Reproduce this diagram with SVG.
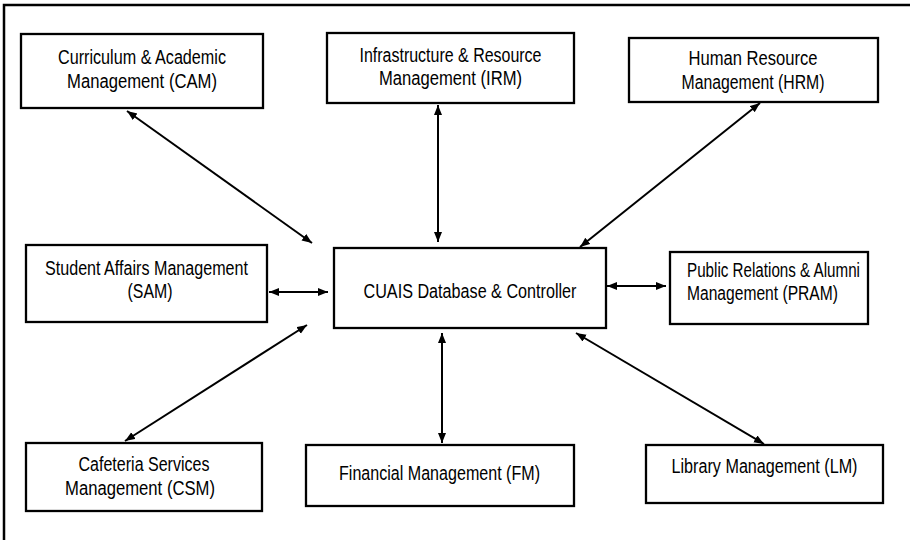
<svg xmlns="http://www.w3.org/2000/svg" width="910" height="540" viewBox="0 0 910 540">
<style>
.box{fill:#fff;stroke:#000;stroke-width:2.3}
.t{font-family:"Liberation Sans",Arial,sans-serif;font-size:19.5px;fill:#000}
.c{text-anchor:middle}
.link{stroke:#000;stroke-width:2;fill:none;marker-start:url(#ah);marker-end:url(#ah)}
</style>
<defs>
<marker id="ah" markerUnits="userSpaceOnUse" markerWidth="11" markerHeight="9" refX="10" refY="4" orient="auto-start-reverse" viewBox="0 0 11 9">
<path d="M0,0 L10,4 L0,8 z" fill="#000"/>
</marker>
</defs>
<rect width="910" height="540" fill="#fff"/>
<path d="M4,545 V5 H915" fill="none" stroke="#000" stroke-width="2.5"/>
<g id="connectors">
<line class="link" x1="127" y1="111" x2="312" y2="243"/>
<line class="link" x1="438" y1="105" x2="438" y2="242"/>
<line class="link" x1="760" y1="103" x2="580" y2="247"/>
<line class="link" x1="269" y1="292" x2="328" y2="292"/>
<line class="link" x1="607" y1="286" x2="666" y2="286"/>
<line class="link" x1="125" y1="441" x2="307" y2="325"/>
<line class="link" x1="442" y1="333" x2="442" y2="443"/>
<line class="link" x1="576" y1="333" x2="764" y2="444"/>
</g>
<g id="cam">
<rect class="box" x="21" y="34" width="242" height="74"/>
<text class="t c" x="142" y="64" textLength="168" lengthAdjust="spacingAndGlyphs">Curriculum &amp; Academic</text>
<text class="t c" x="142" y="88" textLength="150" lengthAdjust="spacingAndGlyphs">Management (CAM)</text>
</g>
<g id="irm">
<rect class="box" x="327" y="33" width="247" height="70"/>
<text class="t c" x="450.5" y="62" textLength="182" lengthAdjust="spacingAndGlyphs">Infrastructure &amp; Resource</text>
<text class="t c" x="450.5" y="85" textLength="143" lengthAdjust="spacingAndGlyphs">Management (IRM)</text>
</g>
<g id="hrm">
<rect class="box" x="629" y="38" width="249" height="64"/>
<text class="t c" x="753" y="65" textLength="129" lengthAdjust="spacingAndGlyphs">Human Resource</text>
<text class="t c" x="753" y="89" textLength="143" lengthAdjust="spacingAndGlyphs">Management (HRM)</text>
</g>
<g id="sam">
<rect class="box" x="26" y="245" width="241" height="77"/>
<text class="t c" x="146.5" y="275" textLength="203" lengthAdjust="spacingAndGlyphs">Student Affairs Management</text>
<text class="t c" x="150" y="298" textLength="45" lengthAdjust="spacingAndGlyphs">(SAM)</text>
</g>
<g id="cuais">
<rect class="box" x="334" y="248" width="272" height="80"/>
<text class="t c" x="470" y="298" textLength="213" lengthAdjust="spacingAndGlyphs">CUAIS Database &amp; Controller</text>
</g>
<g id="pram">
<rect class="box" x="670" y="252" width="198" height="72"/>
<text class="t" x="687" y="277" textLength="173" lengthAdjust="spacingAndGlyphs">Public Relations &amp; Alumni</text>
<text class="t" x="687" y="300" textLength="151" lengthAdjust="spacingAndGlyphs">Management (PRAM)</text>
</g>
<g id="csm">
<rect class="box" x="26" y="443" width="236" height="68"/>
<text class="t c" x="144" y="471" textLength="131" lengthAdjust="spacingAndGlyphs">Cafeteria Services</text>
<text class="t c" x="140" y="495" textLength="150" lengthAdjust="spacingAndGlyphs">Management (CSM)</text>
</g>
<g id="fm">
<rect class="box" x="306" y="445" width="268" height="61"/>
<text class="t c" x="439.5" y="480" textLength="201" lengthAdjust="spacingAndGlyphs">Financial Management (FM)</text>
</g>
<g id="lm">
<rect class="box" x="646" y="445" width="237" height="58"/>
<text class="t c" x="764.5" y="473" textLength="186" lengthAdjust="spacingAndGlyphs">Library Management (LM)</text>
</g>
</svg>
